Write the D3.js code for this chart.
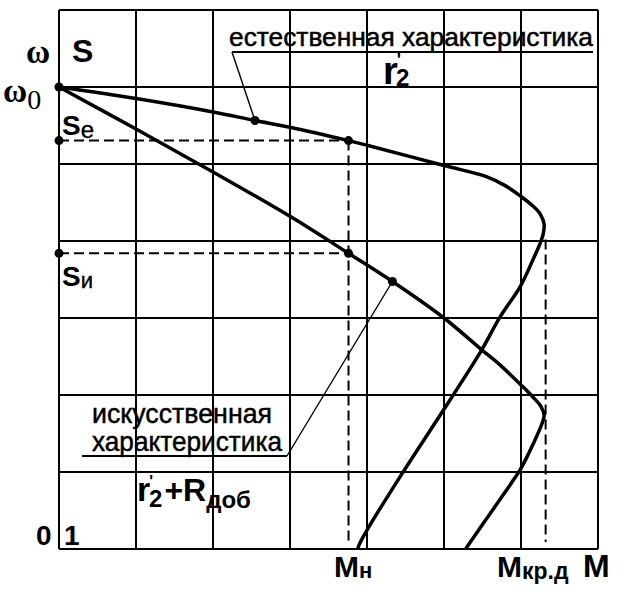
<!DOCTYPE html>
<html>
<head>
<meta charset="utf-8">
<script src="https://cdn.jsdelivr.net/npm/d3@7"></script>
<style>
  html, body { margin: 0; padding: 0; background: #fff; }
  svg { display: block; }
  text { font-family: "Liberation Sans", Arial, sans-serif; fill: #000; }
  .serif { font-family: "Liberation Serif", "Times New Roman", serif; }
</style>
</head>
<body>
<script>
// ---------- data ----------
// grid lines: torque M (cell units) and slip s
const mGrid = [0, 1, 2, 3, 4, 5, 6, 7];
const sGrid = [-1/6, 0, 1/6, 2/6, 3/6, 4/6, 5/6, 1];

// natural characteristic (M, s)
const naturalM = [0, 1, 2, 2.545, 3, 3.76, 4, 5, 5.55, 5.80, 6.0, 6.15, 6.25, 6.30, 6.29, 6.25, 6.16, 5.99, 5.73, 5.49, 5.08, 4.47, 4.0, 3.90, 3.88];
const naturalS = [0, 0.025, 0.054, 0.0725, 0.087, 0.116, 0.126, 0.170, 0.194, 0.214, 0.237, 0.257, 0.275, 0.297, 0.317, 0.338, 0.372, 0.432, 0.497, 0.569, 0.677, 0.833, 0.959, 0.99, 1.0];

// artificial characteristic (M, s)
const artificialM = [0, 1, 2, 3, 3.76, 4.33, 5, 5.49, 5.73, 6.0, 6.16, 6.26, 6.30, 6.28, 6.23, 6.16, 6.08, 5.99, 5.88, 5.76, 5.50, 5.30, 5.28];
const artificialS = [0, 0.091, 0.184, 0.28, 0.36, 0.421, 0.5, 0.569, 0.602, 0.645, 0.672, 0.692, 0.71, 0.725, 0.746, 0.772, 0.80, 0.828, 0.856, 0.885, 0.947, 0.995, 1.0];

// key values
const Mn = 3.76, Mkr = 6.30;
const sE = 0.116, sI = 0.36, sKrNat = 0.30;
const dotM = [0, 0, 0, 2.545, 3.76, 3.76, 4.33];
const dotS = [0, 0.116, 0.36, 0.0725, 0.116, 0.36, 0.421];

// texts
const txtNatural = "естественная характеристика";
const txtArtificial = ["искусственная", "характеристика"];

// ---------- drawing ----------
const W = 621, H = 593;
const svg = d3.select("body").append("svg").attr("width", W).attr("height", H);

const x = d3.scaleLinear().domain([0, 7]).range([59, 598]);
const y = d3.scaleLinear().domain([-1/6, 1]).range([10, 549]);

const g = svg.append("g");

// grid
g.selectAll("line.v").data(mGrid).join("line")
  .attr("x1", d => x(d)).attr("x2", d => x(d))
  .attr("y1", y(-1/6)).attr("y2", y(1))
  .attr("stroke", "#000").attr("stroke-width", 2);
g.selectAll("line.h").data(sGrid).join("line")
  .attr("class", "h")
  .attr("x1", x(0)).attr("x2", x(7))
  .attr("y1", d => y(d)).attr("y2", d => y(d))
  .attr("stroke", "#000").attr("stroke-width", 2);

// dashed helper lines
const dashes = [
  [[0, sE], [Mn, sE]],
  [[0, sI], [Mn, sI]],
  [[Mn, sE], [Mn, 0.985]],
  [[Mkr + 0.02, sKrNat + 0.03], [Mkr + 0.02, 0.985]]
];
g.selectAll("line.d").data(dashes).join("line")
  .attr("x1", d => x(d[0][0])).attr("y1", d => y(d[0][1]))
  .attr("x2", d => x(d[1][0])).attr("y2", d => y(d[1][1]))
  .attr("stroke", "#000").attr("stroke-width", 2).attr("stroke-dasharray", "10,5");

// curves
const line = d3.line().x(d => x(d[0])).y(d => y(d[1])).curve(d3.curveCatmullRom.alpha(0.5));
const natural = naturalM.map((m, i) => [m, naturalS[i]]);
const artificial = artificialM.map((m, i) => [m, artificialS[i]]);
[natural, artificial].forEach(c => {
  g.append("path").attr("d", line(c)).attr("fill", "none")
    .attr("stroke", "#000").attr("stroke-width", 3.5).attr("stroke-linejoin", "round");
});

// dots
g.selectAll("circle").data(dotM.map((m, i) => [m, dotS[i]])).join("circle")
  .attr("cx", d => x(d[0])).attr("cy", d => y(d[1])).attr("r", 4.5).attr("fill", "#000");

// annotation leaders
const lead = (x1, y1, x2, y2, w) => g.append("line")
  .attr("x1", x1).attr("y1", y1).attr("x2", x2).attr("y2", y2)
  .attr("stroke", "#000").attr("stroke-width", w);
lead(232, 52, 593, 52, 1.8);
lead(232, 52, x(dotM[3]), y(dotS[3]), 1.4);
lead(82, 456, 287, 456, 1.8);
lead(287, 456, x(dotM[6]), y(dotS[6]), 1.4);

// ---------- texts ----------
const T = (px, py, str, size, weight, cls) => svg.append("text")
  .attr("x", px).attr("y", py).attr("font-size", size)
  .attr("font-weight", weight || "normal").attr("class", cls || null).text(str);

T(229, 46, txtNatural, 25).attr("textLength", 364).attr("lengthAdjust", "spacingAndGlyphs")
  .attr("stroke", "#000").attr("stroke-width", 0.5);
T(92, 423, txtArtificial[0], 28).attr("textLength", 180).attr("lengthAdjust", "spacingAndGlyphs")
  .attr("stroke", "#000").attr("stroke-width", 0.5);
T(92, 451, txtArtificial[1], 28).attr("textLength", 190).attr("lengthAdjust", "spacingAndGlyphs")
  .attr("stroke", "#000").attr("stroke-width", 0.5);

// axis symbols
T(26, 63, "ω", 33, "bold", "serif");
T(72, 62, "S", 32, "bold");
const w0 = T(3, 102, "ω", 33, "bold", "serif");
w0.append("tspan").attr("font-size", 28).attr("font-weight", "normal").attr("dy", 7).text("0");
const se = T(62, 135, "S", 28, "bold");
se.append("tspan").attr("font-size", 24).attr("font-weight", "normal").attr("dy", 3)
  .attr("stroke", "#000").attr("stroke-width", 0.4).text("e");
const si = T(62, 286, "S", 28, "bold");
si.append("tspan").attr("font-size", 22).attr("font-weight", "normal").attr("dy", 2)
  .attr("stroke", "#000").attr("stroke-width", 0.4).text("и");

// r2'
const r1 = T(383, 84, "r", 38, "bold");
r1.append("tspan").attr("font-size", 18).attr("dy", -18).attr("dx", -1).text("'");
r1.append("tspan").attr("font-size", 24).attr("dy", 20).attr("dx", -5).text("2");
// r2'+Rдоб
const r2 = T(137, 501, "r", 34, "bold");
r2.append("tspan").attr("font-size", 16).attr("dy", -14).attr("dx", -1).text("'");
r2.append("tspan").attr("font-size", 24).attr("dy", 20).attr("dx", -4).text("2");
r2.append("tspan").attr("font-size", 32).attr("dy", -6).attr("dx", 2).text("+R");
r2.append("tspan").attr("font-size", 24).attr("dy", 7).text("доб");

// bottom labels
T(36, 545, "0", 28, "bold");
T(64, 545, "1", 28, "bold");
const mn = T(334, 577, "M", 30, "bold");
mn.append("tspan").attr("font-size", 22).attr("dy", 1).text("н");
const mk = T(497, 577, "M", 30, "bold");
mk.append("tspan").attr("font-size", 23).attr("dy", 2).text("кр.д");
T(583, 577, "M", 32, "bold");
</script>
</body>
</html>
